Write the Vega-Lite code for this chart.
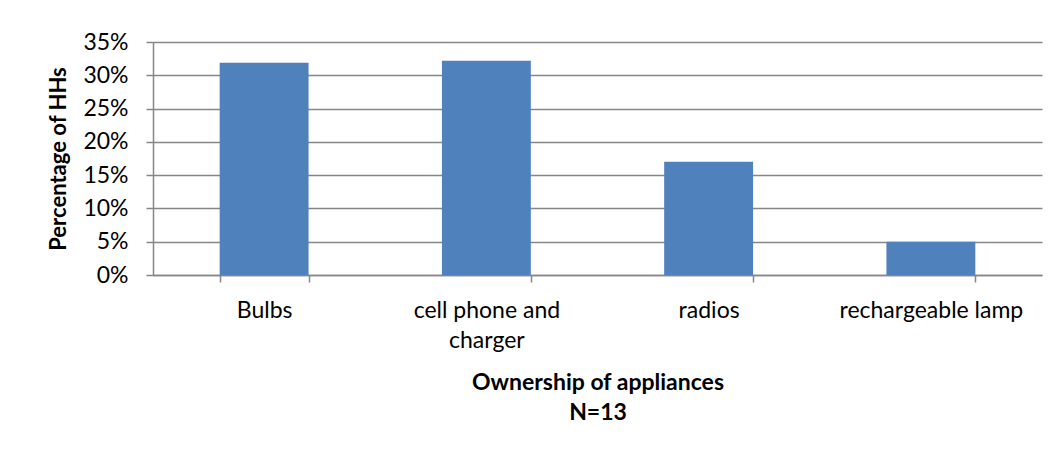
{
  "$schema": "https://vega.github.io/schema/vega-lite/v6.json",
  "width": 889,
  "height": 233,
  "autosize": {"type": "none"},
  "padding": {"left": 153, "top": 42, "right": 20, "bottom": 182},
  "background": "white",
  "config": {
    "view": {"stroke": null},
    "font": "Lato"
  },
  "data": {
    "values": [
      {"appliance": "Bulbs", "share": 0.319},
      {"appliance": "cell phone and charger", "share": 0.322},
      {"appliance": "radios", "share": 0.170},
      {"appliance": "rechargeable lamp", "share": 0.050}
    ]
  },
  "mark": {"type": "bar", "color": "#4F81BD"},
  "encoding": {
    "x": {
      "field": "appliance",
      "type": "nominal",
      "sort": null,
      "scale": {"paddingInner": 0.6, "paddingOuter": 0.3},
      "axis": {
        "title": ["Ownership of appliances", "N=13"],
        "titleFont": "Lato",
        "titleFontSize": 23,
        "titleFontWeight": "bold",
        "titleColor": "#000000",
        "titleLineHeight": 30,
        "titlePadding": 19,
        "labelFont": "Lato",
        "labelFontSize": 23,
        "labelColor": "#000000",
        "labelAngle": 0,
        "labelPadding": 17,
        "labelLineHeight": 30,
        "labelLimit": 0,
        "labelOverlap": false,
        "labelBound": false,
        "labelExpr": "datum.value == 'cell phone and charger' ? ['cell phone and', 'charger'] : datum.value",
        "tickBand": "extent",
        "tickSize": 7,
        "tickColor": "#868686",
        "domainColor": "#868686",
        "domainWidth": 1.5,
        "tickWidth": 1.5
      }
    },
    "y": {
      "field": "share",
      "type": "quantitative",
      "scale": {"domain": [0, 0.35], "nice": false},
      "axis": {
        "title": "Percentage of HHs",
        "titleFont": "Lato",
        "titleFontSize": 22,
        "titleFontWeight": "bold",
        "titleColor": "#000000",
        "titlePadding": 12,
        "format": ".0%",
        "values": [0, 0.05, 0.1, 0.15, 0.2, 0.25, 0.3, 0.35],
        "labelFont": "Lato",
        "labelFontSize": 23,
        "labelColor": "#000000",
        "labelPadding": 18,
        "tickSize": 7,
        "tickColor": "#868686",
        "tickWidth": 1.5,
        "domainColor": "#868686",
        "domainWidth": 1.5,
        "grid": true,
        "gridColor": "#868686",
        "gridWidth": 1.5
      }
    }
  }
}
